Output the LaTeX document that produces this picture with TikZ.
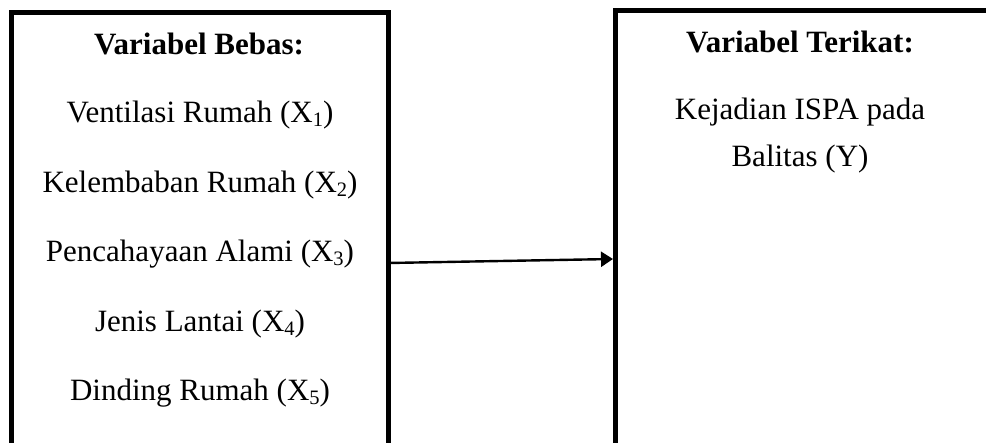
\documentclass[tikz,border=0pt]{standalone}
\usepackage{fontspec}
\setmainfont{Liberation Serif}
\usetikzlibrary{arrows.meta,calc}
\newcommand{\mysub}[1]{\raisebox{-0.12em}{\fontsize{20.5}{20.5}\selectfont #1}}
\begin{document}
\begin{tikzpicture}[x=1pt,y=-1pt,
  box/.style={draw=black, line width=5pt, inner sep=0pt, outer sep=0pt, anchor=north west},
  txt/.style={inner sep=0pt, anchor=base, font=\fontsize{31}{36}\selectfont},
  head/.style={txt, font=\fontsize{31}{36}\selectfont\bfseries},
  link/.style={line width=2.4pt, -{Triangle[length=12pt,width=15pt]}}]
\useasboundingbox (0,0) rectangle (986,443);
\fill[white] (0,0) rectangle (986,443);
\node[box, minimum width=377pt, minimum height=447.5pt] (L) at (11.5,12.5) {};
\node[box, minimum width=373.5pt, minimum height=450pt] (R) at (615.5,10.5) {};
% left texts
\node[head] (hb) at (199,55) {Variabel Bebas:};
\node[txt] (x1) at (200,123) {Ventilasi Rumah (X\mysub{1})};
\node[txt] (x2) at (200,192.5) {Kelembaban Rumah (X\mysub{2})};
\node[txt] (x3) at (200,262) {Pencahayaan Alami (X\mysub{3})};
\node[txt] (x4) at (200,331.5) {Jenis Lantai (X\mysub{4})};
\node[txt] (x5) at (200,401) {Dinding Rumah (X\mysub{5})};
% right texts
\node[head] (ht) at (800,53) {Variabel Terikat:};
\node[txt] (y1) at (800,120) {Kejadian ISPA pada};
\node[txt] (y2) at (800,167) {Balitas (Y)};
% arrow
\coordinate (ya) at (0,263);
\coordinate (yb) at (0,259);
\draw[link] (L.east |- ya) -- ($(R.west |- yb)+(-2.5,0)$);
\end{tikzpicture}
\end{document}
